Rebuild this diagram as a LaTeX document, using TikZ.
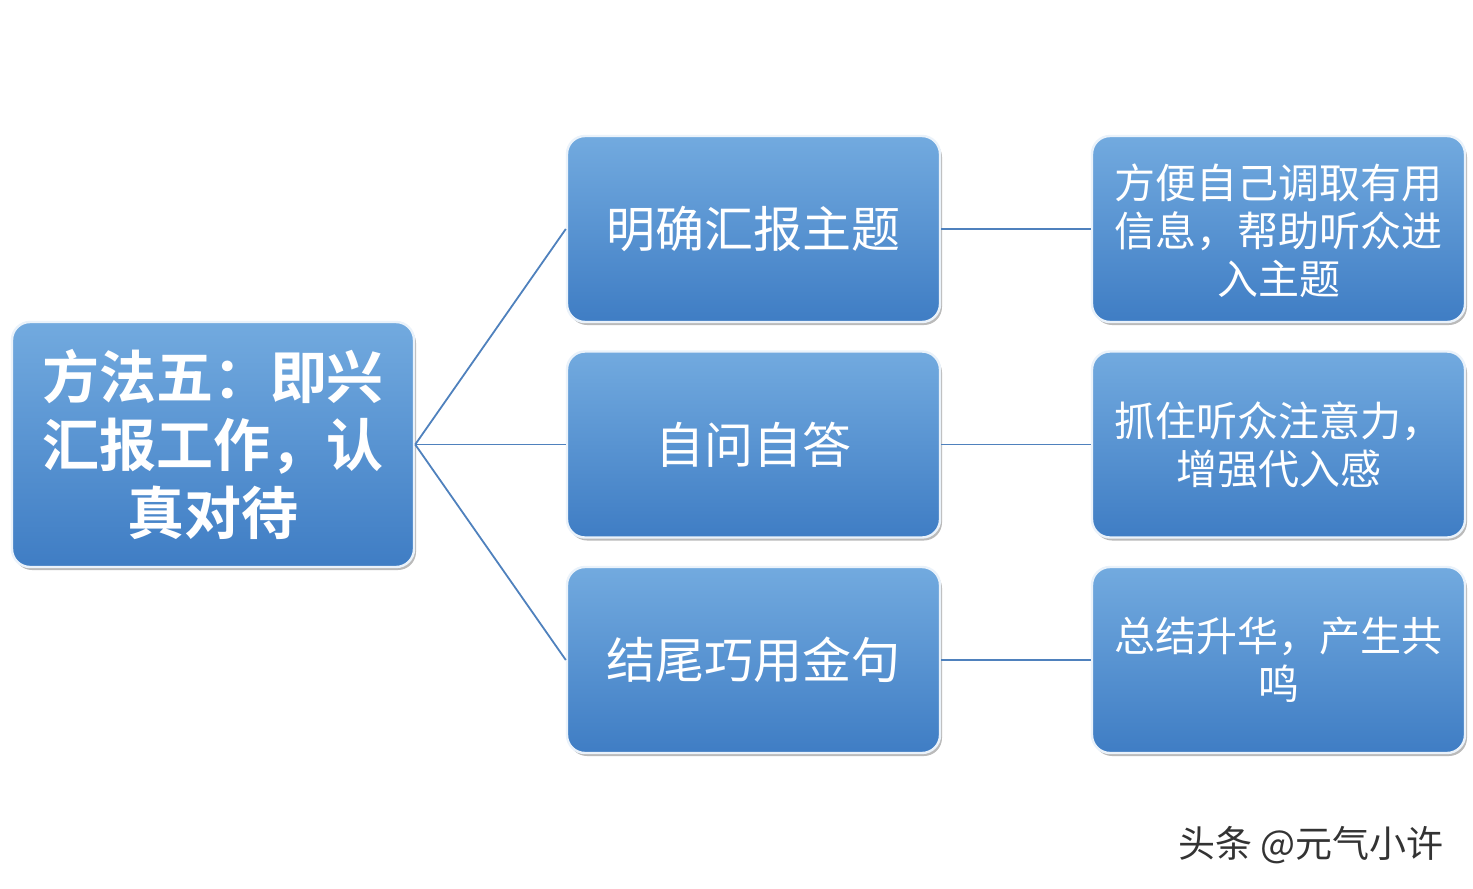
\documentclass[tikz,border=0pt]{standalone}
\usepackage{fontspec}
\newfontfamily\cjk{Noto Sans CJK SC}
\newfontfamily\cjkb{Noto Sans CJK SC Bold}
\usetikzlibrary{shadows}
\definecolor{topc}{HTML}{72AADF}
\definecolor{botc}{HTML}{3F7DC4}
\definecolor{linec}{HTML}{4F81BD}
\tikzset{
  box/.style={draw=white!85!topc, line width=1.2pt, rounded corners=9pt, top color=topc, bottom color=botc,
    drop shadow={shadow xshift=1pt, shadow yshift=-1.5pt, fill=black!45, opacity=0.6},
    text=white, align=center, inner sep=0pt},
  mid/.style={box, minimum width=186.5pt, minimum height=93pt, font=\cjk\fontsize{24.5}{30}\selectfont},
  rgt/.style={box, minimum width=186.5pt, minimum height=93pt, font=\cjk\fontsize{20.5}{24}\selectfont},
  conn/.style={draw=linec, line width=0.9pt}
}
\begin{document}
\begin{tikzpicture}[x=0.5pt,y=-0.5pt]
\useasboundingbox (0,0) rectangle (1473,889);
\node[box, minimum width=201pt, minimum height=122.5pt, font=\cjkb\fontsize{28.5}{34}\selectfont] (m) at (213,444.5)
  {方法五：即兴\\汇报工作，认\\真对待};
\node[mid] (a1) at (753.5,229) {明确汇报主题};
\node[mid] (a2) at (753.5,444.5) {自问自答};
\node[mid] (a3) at (753.5,660) {结尾巧用金句};
\node[rgt, text depth=0pt] (b1) at (1278.5,229) {方便自己调取有用\\信息，帮助听众进\\入主题};
\node[rgt] (b2) at (1278.5,444.5) {抓住听众注意力，\\增强代入感};
\node[rgt] (b3) at (1278.5,660) {总结升华，产生共\\鸣};
\draw[conn] (m.east) -- (a1.west);
\draw[conn] (m.east) -- (a2.west);
\draw[conn] (m.east) -- (a3.west);
\draw[conn] (a1.east) -- (b1.west);
\draw[conn] (a2.east) -- (b2.west);
\draw[conn] (a3.east) -- (b3.west);
\node[text=black!80, font=\cjk\fontsize{18.5}{22}\selectfont] (wm) at (1311,845) {头条 @元气小许};
\end{tikzpicture}
\end{document}
